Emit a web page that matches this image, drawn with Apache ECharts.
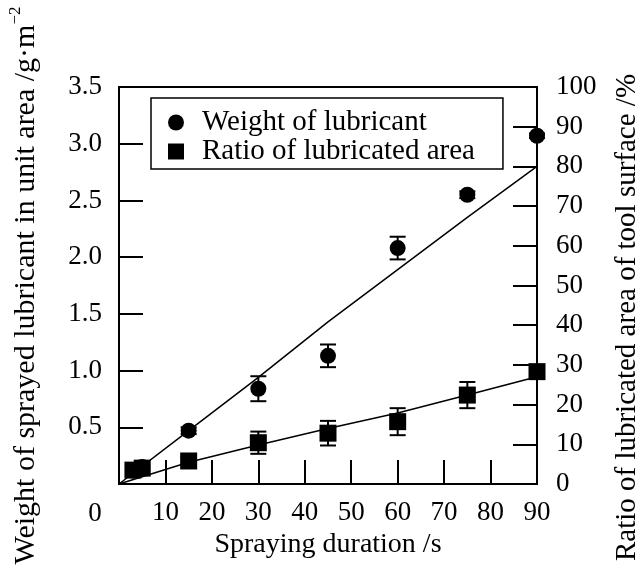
<!DOCTYPE html>
<html>
<head>
<meta charset="utf-8">
<script src="https://cdn.jsdelivr.net/npm/echarts@6/dist/echarts.min.js"></script>
<style>
  html, body { margin: 0; padding: 0; background: #fff; }
  #chart { width: 640px; height: 571px; }
</style>
</head>
<body>
<div id="chart"></div>
<script>
// spraying duration (s)
var duration = [3, 5, 15, 30, 45, 60, 75, 90]
// weight of sprayed lubricant, g/m^2 (left axis)
var weight = [0.12, 0.15, 0.47, 0.84, 1.13, 2.08, 2.55, 3.07]
var weightErr = [0, 0, 0.03, 0.11, 0.10, 0.10, 0.03, 0.02]
// ratio of lubricated area, % (right axis)
var ratio = [3.5, 4.0, 5.8, 10.4, 12.8, 15.7, 22.4, 28.3]
var ratioErr = [0, 0, 1.0, 2.8, 3.1, 3.4, 3.3, 1.0]
// fitted lines
var fitX = [0, 15, 30, 45, 60, 75, 90]
var weightFit = [0, 0.47, 0.94, 1.43, 1.89, 2.35, 2.80]
var ratioFit = [0, 5.5, 9.8, 14.0, 17.9, 22.4, 27.0]

var FONT = 'Liberation Serif'
var chart = echarts.init(document.getElementById('chart'))

function pairs(xs, ys) {
  return xs.map(function (x, i) { return [x, ys[i]] })
}
function triples(xs, ys, es) {
  return xs.map(function (x, i) { return [x, ys[i], es[i]] })
}

function errorBar(params, api) {
  var x = api.value(0), y = api.value(1), e = api.value(2)
  if (!e) return
  var top = api.coord([x, y + e])
  var bot = api.coord([x, y - e])
  var w = 8
  var st = { stroke: '#000', lineWidth: 2 }
  return {
    type: 'group',
    children: [
      { type: 'line', shape: { x1: top[0], y1: top[1], x2: bot[0], y2: bot[1] }, style: st },
      { type: 'line', shape: { x1: top[0] - w, y1: top[1], x2: top[0] + w, y2: top[1] }, style: st },
      { type: 'line', shape: { x1: bot[0] - w, y1: bot[1], x2: bot[0] + w, y2: bot[1] }, style: st }
    ]
  }
}

var tickStyle = { show: true, inside: true, length: 24, lineStyle: { color: '#000', width: 2 } }
var lineStyle = { show: true, lineStyle: { color: '#000', width: 2 } }
var labelStyle = { color: '#000', fontFamily: FONT, fontSize: 27 }
var titleStyle = { color: '#000', fontFamily: FONT, fontSize: 28 }

chart.setOption({
  animation: false,
  backgroundColor: '#fff',
  grid: {
    left: 119, right: 103, top: 87, bottom: 87,
    outerBoundsMode: 'none',
    containLabel: false,
    show: true, borderColor: '#000', borderWidth: 2
  },
  legend: {
    left: 151, top: 98,
    orient: 'vertical',
    padding: [10, 28, 3, 17],
    itemWidth: 16, itemHeight: 16,
    itemGap: 0,
    borderColor: '#000', borderWidth: 1.5,
    textStyle: { color: '#000', fontFamily: FONT, fontSize: 29, lineHeight: 29, padding: [0, 0, 0, 13] },
    data: [
      { name: 'Weight of lubricant', icon: 'circle' },
      { name: 'Ratio of lubricated area', icon: 'rect' }
    ]
  },
  xAxis: {
    type: 'value', min: 0, max: 90, interval: 10,
    name: 'Spraying duration /s',
    nameLocation: 'middle', nameGap: 44,
    nameTextStyle: titleStyle,
    axisLine: lineStyle, axisTick: tickStyle,
    splitLine: { show: false },
    axisLabel: Object.assign({ margin: 15, showMinLabel: false }, labelStyle)
  },
  yAxis: [{
    type: 'value', min: 0, max: 3.5, interval: 0.5, position: 'left',
    name: '{t|Weight of sprayed lubricant in unit area /g·m}{s|−2}',
    nameLocation: 'middle', nameRotate: 90, nameGap: 78,
    nameTextStyle: {
      rich: {
        t: { color: '#000', fontFamily: FONT, fontSize: 30, lineHeight: 34, verticalAlign: 'bottom' },
        s: { color: '#000', fontFamily: FONT, fontSize: 17, lineHeight: 34, verticalAlign: 'top' }
      }
    },
    axisLine: lineStyle, axisTick: tickStyle,
    splitLine: { show: false },
    axisLabel: Object.assign({ margin: 17, showMinLabel: false, formatter: function (v) { return v.toFixed(1) } }, labelStyle)
  }, {
    type: 'value', min: 0, max: 100, interval: 10, position: 'right',
    name: 'Ratio of lubricated area of tool surface /%',
    nameLocation: 'middle', nameRotate: 90, nameGap: 76,
    nameTextStyle: Object.assign({ fontSize: 29, padding: [0, 64, 0, 0] }, { color: '#000', fontFamily: FONT }),
    axisLine: lineStyle, axisTick: tickStyle,
    splitLine: { show: false },
    axisLabel: Object.assign({ margin: 19 }, labelStyle)
  }],
  graphic: [{
    type: 'text', x: 95, y: 514,
    style: { text: '0', fill: '#000', font: '27px "Liberation Serif"', align: 'center', verticalAlign: 'middle' }
  }],
  series: [{
    name: 'weightFit', type: 'line', yAxisIndex: 0,
    data: pairs(fitX, weightFit), showSymbol: false, silent: true,
    lineStyle: { color: '#000', width: 1.5 }
  }, {
    name: 'ratioFit', type: 'line', yAxisIndex: 1,
    data: pairs(fitX, ratioFit), showSymbol: false, silent: true,
    lineStyle: { color: '#000', width: 1.5 }
  }, {
    name: 'weightErr', type: 'custom', yAxisIndex: 0,
    data: triples(duration, weight, weightErr), renderItem: errorBar, z: 3
  }, {
    name: 'ratioErr', type: 'custom', yAxisIndex: 1,
    data: triples(duration, ratio, ratioErr), renderItem: errorBar, z: 3
  }, {
    name: 'Weight of lubricant', type: 'scatter', yAxisIndex: 0,
    data: pairs(duration, weight), symbol: 'circle', symbolSize: 16,
    itemStyle: { color: '#000', opacity: 1 }, z: 4
  }, {
    name: 'Ratio of lubricated area', type: 'scatter', yAxisIndex: 1,
    data: pairs(duration, ratio), symbol: 'rect', symbolSize: 17,
    itemStyle: { color: '#000', opacity: 1 }, z: 5
  }]
})
</script>
</body>
</html>
